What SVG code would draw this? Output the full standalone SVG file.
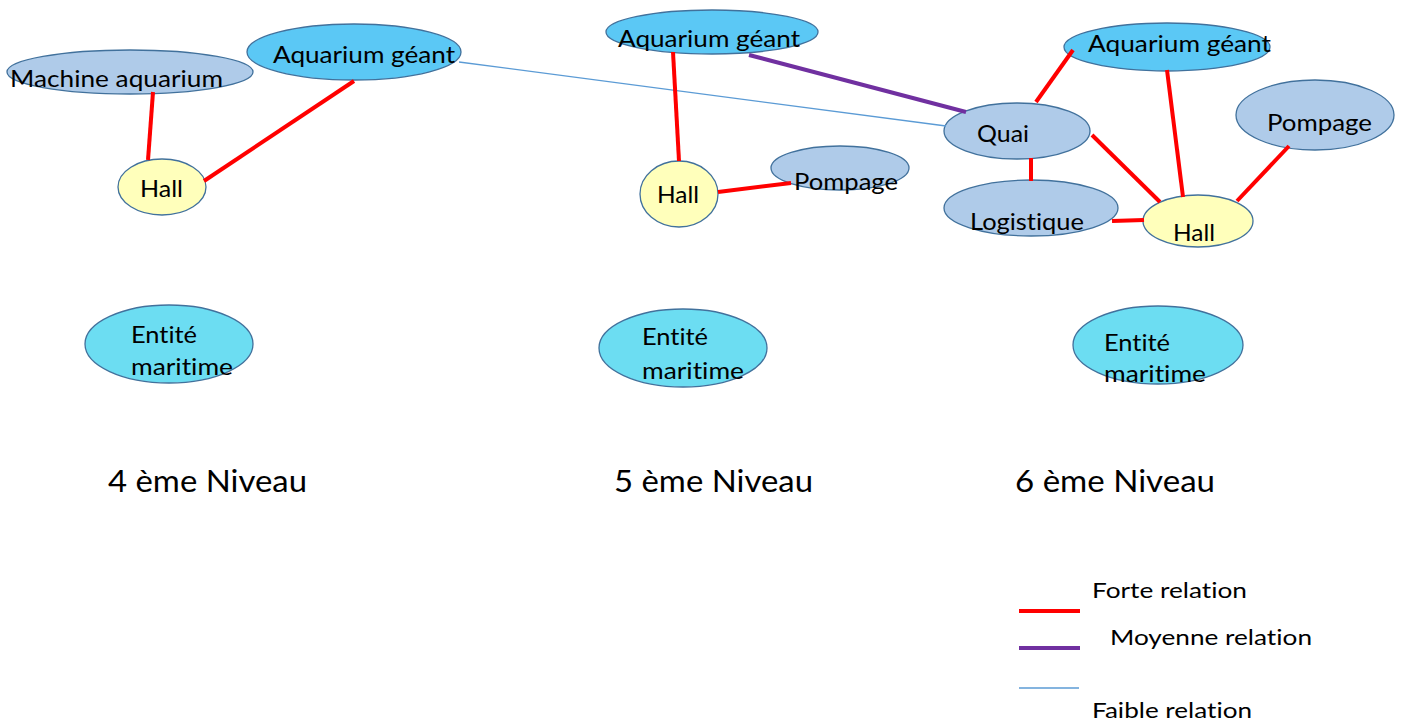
<svg xmlns="http://www.w3.org/2000/svg" width="1403" height="722" viewBox="0 0 1403 722">
<style>
.n{stroke:#41719C;stroke-width:1.3}
.lb{fill:#AFCBE9}
.aq{fill:#5BC8F5}
.hl{fill:#FFFFBB}
.en{fill:#6CDDF2}
text{font-family:Lato,"Liberation Sans",sans-serif;font-size:22.5px;fill:#000;font-variant-ligatures:none;font-feature-settings:"liga" 0}
.lv{font-size:30px}
.lg{font-size:21px}
.f{stroke:#FF0000;stroke-width:4;fill:none}
.m{stroke:#7030A0;stroke-width:4;fill:none}
.w{stroke:#5B9BD5;stroke-width:1.3;fill:none}
</style>
<rect width="1403" height="722" fill="#FFFFFF"/>
<g id="nodes-back">
<g id="machine-aquarium-4"><ellipse class="n lb" cx="130" cy="72" rx="123" ry="22"/></g>
<g id="aquarium-4"><ellipse class="n aq" cx="354" cy="52" rx="107" ry="28"/></g>
<g id="hall-4"><ellipse class="n hl" cx="162" cy="187" rx="44" ry="28"/></g>
<g id="entite-4"><ellipse class="n en" cx="169" cy="344" rx="84" ry="39"/></g>
<g id="aquarium-5"><ellipse class="n aq" cx="712" cy="32" rx="106" ry="22"/></g>
<g id="hall-5"><ellipse class="n hl" cx="679" cy="194" rx="39" ry="33"/></g>
<g id="pompage-5"><ellipse class="n lb" cx="840" cy="168" rx="69" ry="22"/></g>
<g id="entite-5"><ellipse class="n en" cx="683" cy="348" rx="84" ry="39"/></g>
<g id="aquarium-6"><ellipse class="n aq" cx="1167" cy="47" rx="103" ry="24"/></g>
<g id="quai-6"><ellipse class="n lb" cx="1017" cy="131" rx="73" ry="28"/></g>
<g id="pompage-6"><ellipse class="n lb" cx="1315" cy="115" rx="79" ry="35"/></g>
<g id="logistique-6"><ellipse class="n lb" cx="1031" cy="208" rx="87" ry="28"/></g>
<g id="hall-6"><ellipse class="n hl" cx="1198" cy="221" rx="55" ry="26"/></g>
<g id="entite-6"><ellipse class="n en" cx="1158" cy="345" rx="85" ry="39"/></g>
</g>
<g id="connectors">
<line class="f" x1="153" y1="92" x2="148" y2="160"/>
<line class="f" x1="354" y1="81" x2="204" y2="181"/>
<line class="w" x1="459" y1="62" x2="946" y2="126"/>
<line class="f" x1="673" y1="52" x2="679" y2="161"/>
<line class="f" x1="718" y1="192" x2="791" y2="183"/>
<line class="m" x1="749" y1="55" x2="966" y2="112"/>
<line class="f" x1="1036" y1="102" x2="1073" y2="50"/>
<line class="f" x1="1167" y1="70" x2="1183" y2="197"/>
<line class="f" x1="1092" y1="135" x2="1160" y2="202"/>
<line class="f" x1="1289" y1="146" x2="1237" y2="201"/>
<line class="f" x1="1031" y1="158" x2="1031" y2="181"/>
<line class="f" x1="1112" y1="221" x2="1144" y2="220"/>
</g>
<g id="labels">
<text x="10" y="87" textLength="213" lengthAdjust="spacingAndGlyphs">Machine aquarium</text>
<text x="273" y="63" textLength="182" lengthAdjust="spacingAndGlyphs">Aquarium géant</text>
<text x="140" y="197" textLength="43" lengthAdjust="spacingAndGlyphs">Hall</text>
<text x="131" y="343" textLength="66" lengthAdjust="spacingAndGlyphs">Entité</text>
<text x="131" y="375" textLength="102" lengthAdjust="spacingAndGlyphs">maritime</text>
<text x="618" y="47" textLength="182" lengthAdjust="spacingAndGlyphs">Aquarium géant</text>
<text x="657" y="203" textLength="42" lengthAdjust="spacingAndGlyphs">Hall</text>
<text x="794" y="190" textLength="104" lengthAdjust="spacingAndGlyphs">Pompage</text>
<text x="642" y="345" textLength="66" lengthAdjust="spacingAndGlyphs">Entité</text>
<text x="642" y="379" textLength="102" lengthAdjust="spacingAndGlyphs">maritime</text>
<text x="1088" y="52" textLength="183" lengthAdjust="spacingAndGlyphs">Aquarium géant</text>
<text x="977" y="142" textLength="52" lengthAdjust="spacingAndGlyphs">Quai</text>
<text x="1267" y="131" textLength="105" lengthAdjust="spacingAndGlyphs">Pompage</text>
<text x="970" y="230" textLength="114" lengthAdjust="spacingAndGlyphs">Logistique</text>
<text x="1173" y="241" textLength="42" lengthAdjust="spacingAndGlyphs">Hall</text>
<text x="1104" y="351" textLength="66" lengthAdjust="spacingAndGlyphs">Entité</text>
<text x="1104" y="382" textLength="102" lengthAdjust="spacingAndGlyphs">maritime</text>
</g>
<g id="levels">
<text class="lv" x="108" y="492" textLength="199" lengthAdjust="spacingAndGlyphs">4 ème Niveau</text>
<text class="lv" x="614" y="492" textLength="199" lengthAdjust="spacingAndGlyphs">5 ème Niveau</text>
<text class="lv" x="1015" y="492" textLength="200" lengthAdjust="spacingAndGlyphs">6 ème Niveau</text>
</g>
<g id="legend">
<text class="lg" x="1092" y="598" textLength="155" lengthAdjust="spacingAndGlyphs">Forte relation</text>
<line class="f" x1="1019" y1="611" x2="1080" y2="611"/>
<text class="lg" x="1110" y="645" textLength="202" lengthAdjust="spacingAndGlyphs">Moyenne relation</text>
<line class="m" x1="1019" y1="648" x2="1080" y2="648"/>
<line class="w" x1="1019" y1="688" x2="1079" y2="688"/>
<text class="lg" x="1092" y="718" textLength="160" lengthAdjust="spacingAndGlyphs">Faible relation</text>
</g>
</svg>
